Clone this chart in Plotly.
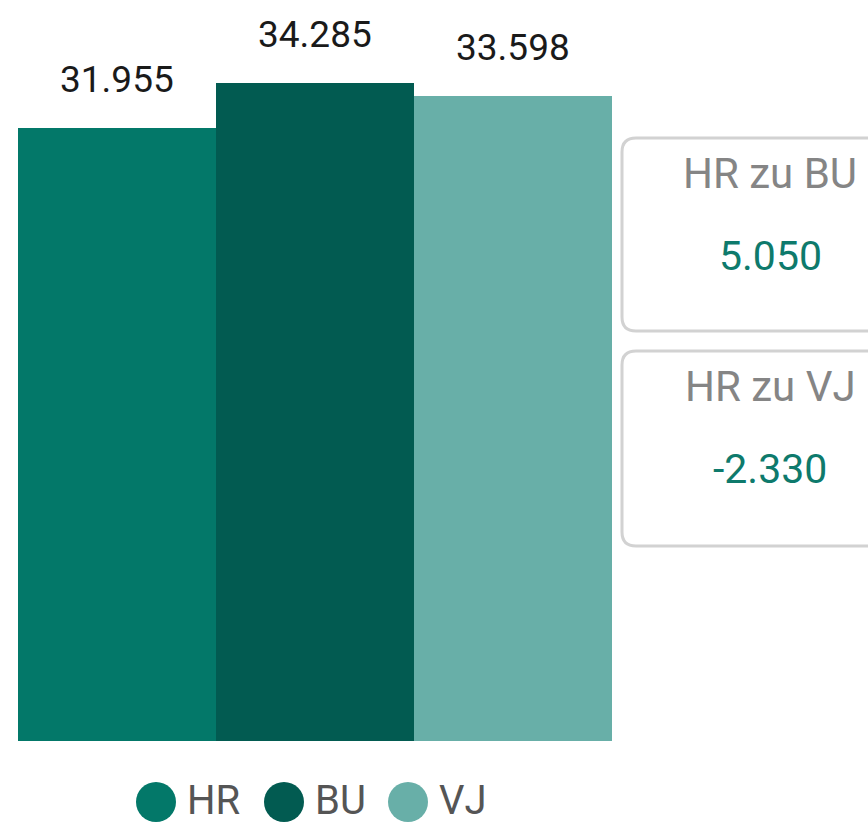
import plotly.graph_objects as go

# data
categories = ["HR", "BU", "VJ"]
values = [31955, 34285, 33598]
bar_colors = ["#037869", "#025b51", "#68afa8"]
value_labels = ["31.955", "34.285", "33.598"]

card_titles = ["HR zu BU", "HR zu VJ"]
card_values = ["5.050", "-2.330"]

W, H = 868, 826
ML, MR, MT, MB = 18, 256, 50, 85
PW, PH = W - ML - MR, H - MT - MB
FONT = "Roboto, sans-serif"


def px(x):
    return (x - ML) / PW


def py(y):
    return (H - MB - y) / PH


def rounded_rect(x0, y0, x1, y1, r):
    # pixel box -> paper path, corners drawn as quadratic curves
    pts = [
        f"M {px(x0 + r)} {py(y0)}",
        f"L {px(x1 - r)} {py(y0)}",
        f"Q {px(x1)} {py(y0)} {px(x1)} {py(y0 + r)}",
        f"L {px(x1)} {py(y1 - r)}",
        f"Q {px(x1)} {py(y1)} {px(x1 - r)} {py(y1)}",
        f"L {px(x0 + r)} {py(y1)}",
        f"Q {px(x0)} {py(y1)} {px(x0)} {py(y1 - r)}",
        f"L {px(x0)} {py(y0 + r)}",
        f"Q {px(x0)} {py(y0)} {px(x0 + r)} {py(y0)}",
        "Z",
    ]
    return " ".join(pts)


fig = go.Figure()
fig.add_trace(
    go.Bar(
        x=categories,
        y=values,
        marker=dict(color=bar_colors, line=dict(width=0)),
        showlegend=False,
        hoverinfo="skip",
    )
)

# value labels above bars
for cat, val, lab in zip(categories, values, value_labels):
    fig.add_annotation(
        x=cat,
        y=val,
        text=lab,
        showarrow=False,
        xanchor="center",
        yanchor="bottom",
        yshift=25,
        font=dict(family=FONT, size=37, color="#1a1a1a"),
    )

# cards on the right
card_boxes = [(622, 138, 920, 331), (622, 351, 920, 546)]
for (x0, y0, x1, y1), title, val in zip(card_boxes, card_titles, card_values):
    fig.add_shape(
        type="path",
        xref="paper",
        yref="paper",
        path=rounded_rect(x0, y0, x1, y1, 14),
        line=dict(color="#d2d2d2", width=3),
        fillcolor="white",
    )
    cx = px(770)
    fig.add_annotation(
        x=cx, y=py(y0 + 35), xref="paper", yref="paper",
        text=title, showarrow=False, xanchor="center", yanchor="middle",
        font=dict(family=FONT, size=42, color="#858585"),
    )
    fig.add_annotation(
        x=cx, y=py(y0 + 118), xref="paper", yref="paper",
        text=val, showarrow=False, xanchor="center", yanchor="middle",
        font=dict(family=FONT, size=41, color="#0e7a6c"),
    )

# legend drawn by hand so the circles can be large
legend_x = [156, 284, 408]
legend_y = 802
for cat, col, lx in zip(categories, bar_colors, legend_x):
    fig.add_shape(
        type="circle",
        xref="paper", yref="paper",
        xsizemode="pixel", ysizemode="pixel",
        xanchor=px(lx), yanchor=py(legend_y),
        x0=-20, x1=20, y0=-20, y1=20,
        fillcolor=col, line=dict(width=0),
    )
    fig.add_annotation(
        x=px(lx + 29), y=py(legend_y - 2), xref="paper", yref="paper",
        text=cat, showarrow=False, xanchor="left", yanchor="middle",
        font=dict(family=FONT, size=40, color="#555555"),
    )

fig.update_layout(
    width=W,
    height=H,
    margin=dict(l=ML, r=MR, t=MT, b=MB, pad=0),
    bargap=0,
    plot_bgcolor="white",
    paper_bgcolor="white",
    showlegend=False,
)
fig.update_xaxes(visible=False, range=[-0.5, 2.5])
fig.update_yaxes(visible=False, range=[0, PH / (741 - 128) * 31955])

fig.write_html(
    "out.html",
    config={"displayModeBar": False},
    post_script="document.body.style.margin='0';",
)
